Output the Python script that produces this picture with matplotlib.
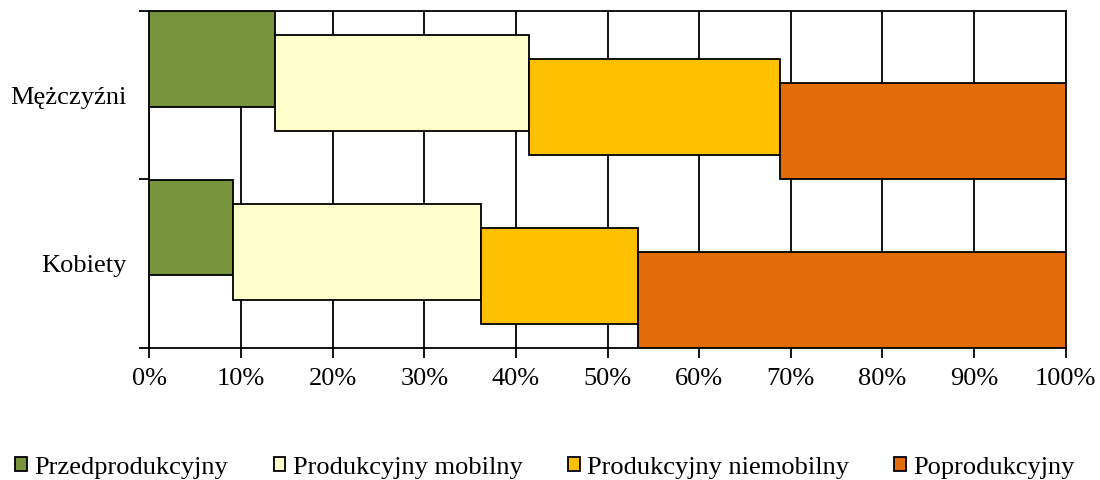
import matplotlib

matplotlib.use("Agg")

import matplotlib.pyplot as plt
import numpy as np
from matplotlib.patches import Patch
from matplotlib.ticker import FuncFormatter, MultipleLocator

plt.rcParams["font.family"] = ["Liberation Serif", "DejaVu Serif"]

CATEGORIES = ["Kobiety", "Mężczyźni"]
SERIES = ["Przedprodukcyjny", "Produkcyjny mobilny", "Produkcyjny niemobilny", "Poprodukcyjny"]
COLORS = ["#77933C", "#FFFFCC", "#FFC000", "#E36C0A"]

# share (%) per category, in SERIES order
kobiety = [9.1, 27.1, 17.1, 46.7]
mezczyzni = [13.7, 27.7, 27.4, 31.2]
values = np.array([kobiety, mezczyzni])

BAR_H = 0.57
STEP = 0.143
FS = 19

fig = plt.figure(figsize=(11, 4.8), dpi=100)
fig.patch.set_facecolor("white")
ax = fig.add_axes([0.1359, 0.2756, 0.9688 - 0.1359, 0.977 - 0.2756])

lefts = np.cumsum(values, axis=1) - values
n_series = values.shape[1]
for k in range(n_series):
    # each later segment sits one step lower (staircase look)
    bottoms = np.arange(len(CATEGORIES)) + (n_series - 1 - k) * STEP
    ax.barh(bottoms, values[:, k], left=lefts[:, k], height=BAR_H,
            align="edge", color=COLORS[k], edgecolor="black",
            linewidth=1.3, zorder=3)

ax.set_xlim(0, 100)
ax.set_ylim(0, len(CATEGORIES))
ax.xaxis.set_major_locator(MultipleLocator(10))
ax.xaxis.set_major_formatter(FuncFormatter(lambda v, _: f"{v:.0f}%"))
ax.grid(axis="x", color="black", linewidth=1.3, zorder=0)
ax.set_axisbelow(True)

ax.set_yticks(np.arange(len(CATEGORIES) + 1))
ax.set_yticklabels([])
ax.set_yticks(np.arange(len(CATEGORIES)) + 0.5, minor=True)
ax.set_yticklabels(CATEGORIES, minor=True)
ax.tick_params(axis="y", which="minor", length=0, pad=16.5, labelsize=FS)
ax.tick_params(axis="y", which="major", length=7, width=1.3)
ax.tick_params(axis="x", length=7, width=1.3, labelsize=FS, pad=7.5)

for side in ax.spines:
    ax.spines[side].set_linewidth(1.3)
    ax.spines[side].set_color("black")

handles = [Patch(facecolor=c, edgecolor="black", linewidth=1.3, label=s)
           for s, c in zip(SERIES, COLORS)]
fig.legend(handles=handles, loc="center", bbox_to_anchor=(0.4955, 0.026),
           ncol=4, frameon=False, fontsize=FS, handlelength=0.45,
           handleheight=0.45, handletextpad=0.28, columnspacing=1.71)

fig.savefig("out.png", dpi=100)
